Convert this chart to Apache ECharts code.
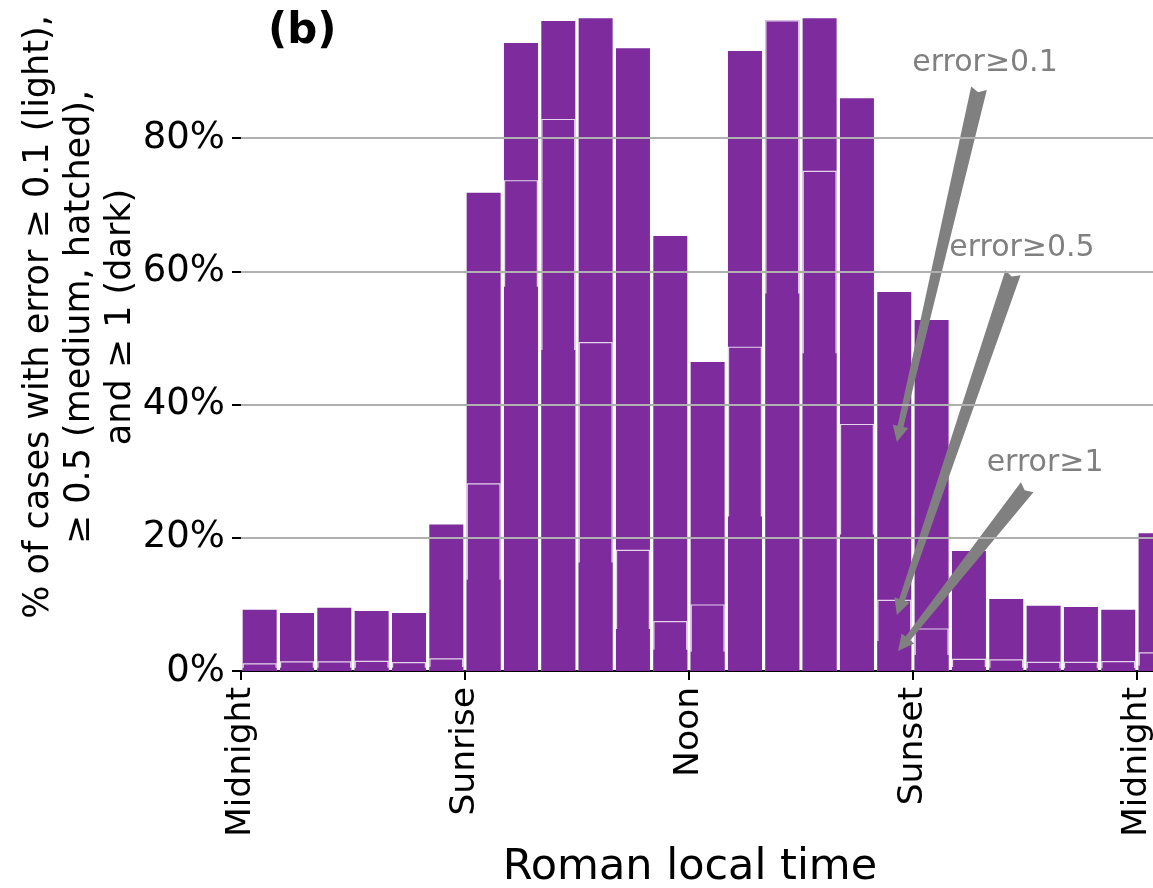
<!DOCTYPE html>
<html>
<head>
<meta charset="utf-8">
<script src="https://cdn.jsdelivr.net/npm/echarts@6/dist/echarts.min.js"></script>
<style>
  html, body { margin: 0; padding: 0; background: #ffffff; }
  #chart { width: 1153px; height: 888px; }
</style>
</head>
<body>
<div id="chart"></div>
<script>
// Hourly bins (Roman hours, starting at midnight); the last bin wraps past midnight
const bins = [0, 1, 2, 3, 4, 5, 6, 7, 8, 9, 10, 11, 12, 13, 14, 15, 16, 17, 18, 19, 20, 21, 22, 23, 24];

// Share of cases (%) with error >= 0.1, >= 0.5 and >= 1 per bin
const light  = [9.2, 8.7, 9.5, 9.0, 8.7, 22.0, 71.8, 94.3, 97.6, 98.0, 93.5, 65.3, 46.4, 93.1, 97.7, 98.0, 86.0, 56.9, 52.7, 18.0, 10.8, 9.8, 9.6, 9.2, 20.7];
const medium = [1.15, 1.45, 1.45, 1.55, 1.35, 1.9, 28.2, 73.7, 82.9, 49.4, 18.2, 7.5, 10.0, 48.7, 97.7, 75.1, 37.1, 10.7, 6.4, 1.85, 1.75, 1.4, 1.4, 1.5, 2.8];
const dark   = [0.5, 0.5, 0.5, 0.5, 0.5, 0.6, 13.7, 57.7, 48.2, 16.3, 6.3, 3.2, 2.9, 23.2, 56.7, 47.7, 20.5, 4.5, 2.4, 0.6, 0.5, 0.4, 0.4, 0.4, 0.8];

// Axis ticks
const tickHours = [0, 6, 12, 18, 24];
const tickNames = ['Midnight', 'Sunrise', 'Noon', 'Sunset', 'Midnight'];
const yTicks = [0, 20, 40, 60, 80];

// Annotations: label, label position, arrow tail and arrow head (hours, %)
const annoLabels = ['error≥0.1', 'error≥0.5', 'error≥1'];
const annoText = [[19.93, 91.3], [20.92, 63.5], [21.54, 31.2]];
const annoTail = [[19.77, 87.5], [20.68, 59.8], [21.06, 27.6]];
const annoHead = [[17.57, 34.4], [17.57, 8.4], [17.60, 3.0]];

const FONT = 'DejaVu Sans';
const PURPLE = '#7e2b9e';
const GREY = '#808080';
const BAR_W = 34;
const PX_PER_HOUR = 37.33;

const chart = echarts.init(document.getElementById('chart'), null, { renderer: 'canvas' });

const toPairs = vals => bins.map((b, i) => [b + 0.5, vals[i]]);

// Fancy arrow: wide notched tail tapering to a narrow shaft, then a triangular head
function renderArrow(params, api) {
  const t = api.coord([api.value(0), api.value(1)]);
  const h = api.coord([api.value(2), api.value(3)]);
  const p = api.coord([api.value(4), api.value(5)]);
  const dx = h[0] - t[0], dy = h[1] - t[1];
  const len = Math.hypot(dx, dy);
  const ux = dx / len, uy = dy / len;
  const nx = -uy, ny = ux;
  const HL = 16, HW = 8, SW = 3, TW = 8, NOTCH = 4;
  const bx = h[0] - ux * HL, by = h[1] - uy * HL;
  const pts = [
    [t[0] + nx * TW, t[1] + ny * TW],
    [bx + nx * SW, by + ny * SW],
    [bx + nx * HW, by + ny * HW],
    [h[0], h[1]],
    [bx - nx * HW, by - ny * HW],
    [bx - nx * SW, by - ny * SW],
    [t[0] - nx * TW, t[1] - ny * TW],
    [t[0] + ux * NOTCH, t[1] + uy * NOTCH]
  ];
  return {
    type: 'group',
    children: [
      { type: 'polygon', shape: { points: pts }, style: { fill: GREY } },
      {
        type: 'text', x: p[0], y: p[1],
        style: {
          text: annoLabels[params.dataIndex], fill: GREY,
          font: '30px "' + FONT + '"', align: 'center', verticalAlign: 'middle'
        }
      }
    ]
  };
}

const option = {
  animation: false,
  backgroundColor: '#ffffff',
  title: {
    text: '(b)', left: 268, top: 11, padding: 0,
    textStyle: { fontFamily: FONT, fontSize: 42, fontWeight: 'bold', color: '#000' }
  },
  grid: { left: 241, top: 5, width: 25 * PX_PER_HOUR, height: 666, containLabel: false, outerBoundsMode: 'none' },
  xAxis: {
    type: 'value', min: 0, max: 25, interval: 6,
    axisLine: { show: true, lineStyle: { color: '#000', width: 2 } },
    axisTick: { show: true, length: 9, lineStyle: { color: '#000', width: 2 } },
    axisLabel: {
      rotate: 90, margin: 16, fontFamily: FONT, fontSize: 34.5, color: '#000',
      formatter: v => { const k = tickHours.indexOf(v); return k >= 0 ? tickNames[k] : ''; }
    },
    splitLine: { show: false }
  },
  yAxis: [
    {
      type: 'value', min: 0, max: 100, interval: 20,
      axisLine: { show: false },
      axisTick: { show: true, length: 9, lineStyle: { color: '#000', width: 2 }, customValues: yTicks },
      axisLabel: {
        margin: 16, fontFamily: FONT, fontSize: 37, color: '#000', customValues: yTicks,
        formatter: v => (yTicks.indexOf(v) >= 0 ? v + '%' : '')
      },
      splitLine: { show: false }
    },
    {
      type: 'value', min: 0, max: 100, interval: 20, position: 'right', offset: -37,
      axisLine: { show: false },
      axisTick: { show: true, inside: true, length: 9, lineStyle: { color: '#000', width: 2 }, customValues: yTicks },
      axisLabel: { show: false },
      splitLine: { show: false }
    }
  ],
  series: [
    {
      name: 'error ≥ 0.1', type: 'bar', barWidth: BAR_W, barGap: '-100%',
      data: toPairs(light),
      itemStyle: { color: PURPLE }
    },
    {
      name: 'error ≥ 0.5', type: 'bar', barWidth: BAR_W, barGap: '-100%',
      data: toPairs(medium),
      itemStyle: { color: PURPLE, borderColor: 'rgba(255,255,255,0.8)', borderWidth: 1.2 }
    },
    {
      name: 'error ≥ 1', type: 'bar', barWidth: BAR_W, barGap: '-100%',
      data: toPairs(dark),
      itemStyle: { color: PURPLE }
    },
    {
      // horizontal reference lines drawn above the bars
      type: 'line', data: [], z: 3, silent: true,
      markLine: {
        silent: true, symbol: 'none', label: { show: false },
        lineStyle: { color: '#b0b0b0', width: 2, type: 'solid' },
        data: yTicks.filter(v => v > 0).map(v => ({ yAxis: v }))
      }
    },
    {
      type: 'custom', z: 4, silent: true,
      renderItem: renderArrow,
      encode: { x: [0, 2, 4], y: [1, 3, 5] },
      data: annoLabels.map((_, i) => [annoTail[i][0], annoTail[i][1], annoHead[i][0], annoHead[i][1], annoText[i][0], annoText[i][1]])
    }
  ],
  graphic: [
    {
      type: 'text', x: 80, y: 317, rotation: Math.PI / 2,
      style: {
        text: '% of cases with error ≥ 0.1 (light),\n≥ 0.5 (medium, hatched),\nand ≥ 1 (dark)',
        font: '35px "' + FONT + '"', fill: '#000', align: 'center', verticalAlign: 'middle', lineHeight: 41
      }
    },
    {
      type: 'text', x: 690, y: 868,
      style: {
        text: 'Roman local time', font: '43px "' + FONT + '"', fill: '#000',
        align: 'center', verticalAlign: 'middle'
      }
    }
  ]
};

chart.setOption(option);
</script>
</body>
</html>
